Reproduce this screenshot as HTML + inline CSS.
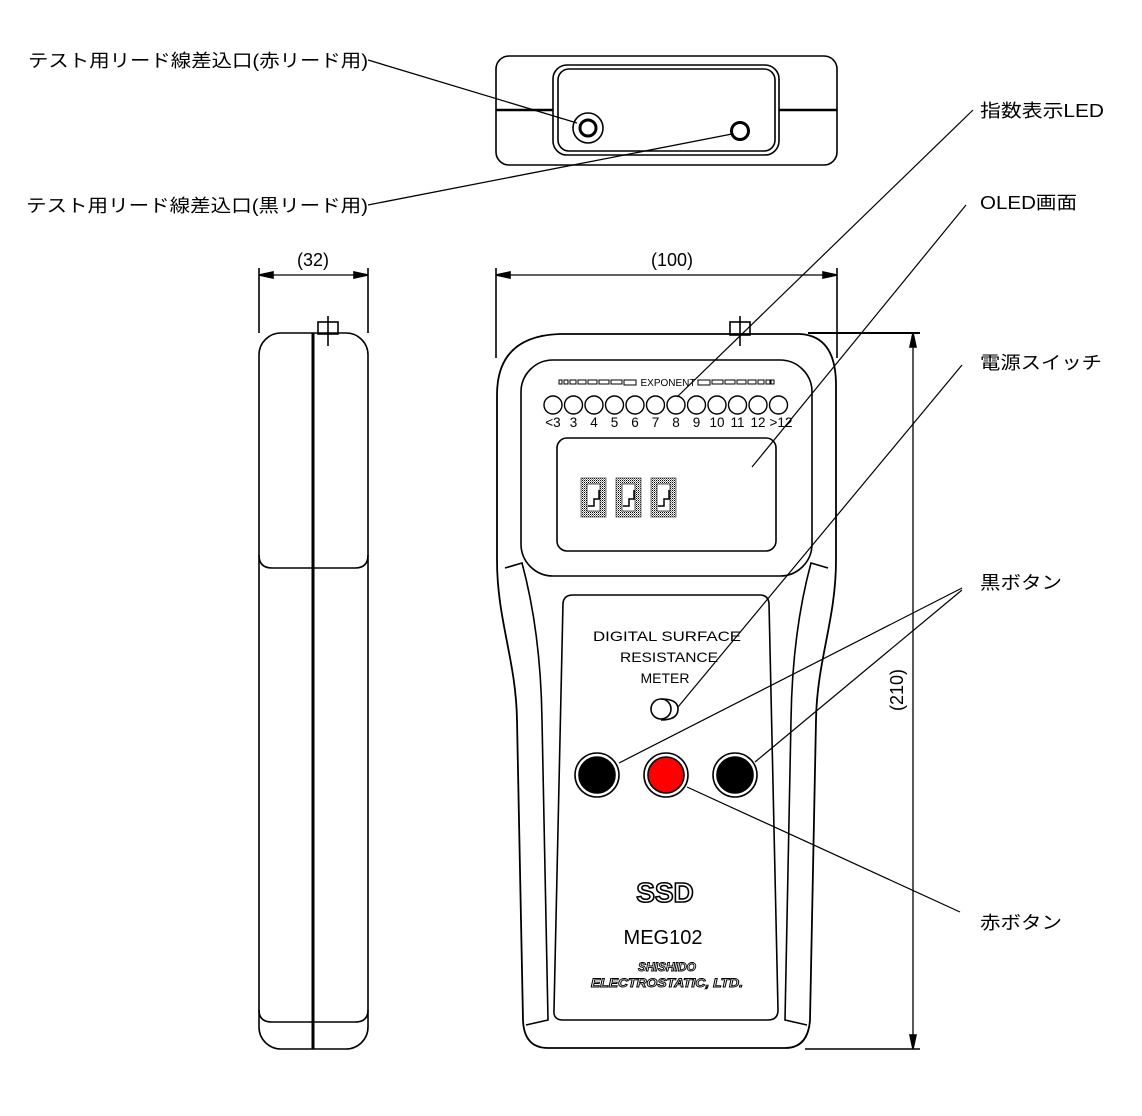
<!DOCTYPE html>
<html><head><meta charset="utf-8"><style>
html,body{margin:0;padding:0;background:#fff;}
svg{display:block;}
text{font-family:"Liberation Sans","Noto Sans CJK JP",sans-serif;}
</style></head><body>
<svg width="1142" height="1116" viewBox="0 0 1142 1116" xmlns="http://www.w3.org/2000/svg">
<defs>
<marker id="ar" viewBox="0 0 10 10" refX="10" refY="5" markerWidth="14" markerHeight="6" orient="auto" markerUnits="userSpaceOnUse"><path d="M0,0 L10,5 L0,10 Z" fill="#000"/></marker>
<pattern id="hp" width="2" height="2" patternUnits="userSpaceOnUse"><rect width="1" height="1" fill="#000"/><rect x="1" y="1" width="1" height="1" fill="#888"/></pattern>
</defs>
<g fill="none" stroke="#000" stroke-width="1.6">
<rect x="496" y="56" width="341" height="109" rx="13"/>
<rect x="553" y="65" width="226" height="90" rx="14"/>
<rect x="558" y="69" width="217" height="82" rx="11"/>
<line x1="496" y1="110" x2="553" y2="110" stroke-width="2.5"/>
<line x1="779" y1="110" x2="837" y2="110" stroke-width="2.5"/>
<circle cx="588" cy="128" r="15"/>
<circle cx="588" cy="128" r="8" stroke-width="3"/>
<circle cx="740" cy="131" r="8.5" stroke-width="3"/>
<line x1="368" y1="60" x2="577" y2="123" stroke-width="1.3"/>
<line x1="368" y1="205" x2="732" y2="134" stroke-width="1.3"/>

<rect x="259" y="333" width="109" height="716" rx="22"/>
<path d="M259,555 Q259,568 272,568 L355,568 Q368,568 368,555"/>
<path d="M259,1010 Q259,1022 272,1022 L355,1022 Q368,1022 368,1010"/>
<line x1="313" y1="333" x2="313" y2="1049" stroke-width="3"/>
<rect x="318" y="322" width="20" height="12"/>
<line x1="328" y1="316" x2="328" y2="346"/>
<line x1="259" y1="268" x2="259" y2="333"/>
<line x1="368" y1="268" x2="368" y2="333"/>
<line x1="262" y1="275" x2="365" y2="275" stroke-width="1.3"/>
<path d="M259,275 L273,272 L273,278 Z M368,275 L354,272 L354,278 Z" fill="#000"/>

<line x1="496" y1="268" x2="496" y2="358"/>
<line x1="837" y1="268" x2="837" y2="358"/>
<line x1="499" y1="275" x2="834" y2="275" stroke-width="1.3"/>
<path d="M496,275 L510,272 L510,278 Z M837,275 L823,272 L823,278 Z" fill="#000"/>
<line x1="808" y1="333" x2="920" y2="333" stroke-width="2"/>
<line x1="805" y1="1049" x2="920" y2="1049" stroke-width="1.6"/>
<line x1="913" y1="336" x2="913" y2="1046" stroke-width="1.3"/>
<path d="M913,333 L910,347 L916,347 Z M913,1049 L910,1035 L916,1035 Z" fill="#000"/>

<path d="M560,334 L800,334 Q836,336 836,385 L836,560 C836,620 817,660 816,720 L810,1020 Q808,1048 785,1048 L548,1048 Q524,1048 523,1020 L517,720 C516,660 497,620 497,560 L497,395 Q497,336 560,334 Z" stroke-width="1.8"/>
<rect x="730" y="322" width="20" height="13"/>
<line x1="740" y1="316" x2="740" y2="346"/>
<path d="M505,568 L522,563 C532,600 541,650 542,720 L548,1020 L526,1025"/>
<path d="M828,568 L811,563 C801,600 792,650 791,720 L785,1020 L807,1025"/>
<rect x="521" y="360" width="291" height="216" rx="32"/>
<rect x="557" y="438" width="219" height="113" rx="10"/>
<g stroke-width="1.4">
<circle cx="553" cy="405" r="9"/><circle cx="573.5" cy="405" r="9"/><circle cx="594" cy="405" r="9"/><circle cx="614.5" cy="405" r="9"/><circle cx="635" cy="405" r="9"/><circle cx="655.5" cy="405" r="9"/><circle cx="676" cy="405" r="9"/><circle cx="696.5" cy="405" r="9"/><circle cx="717" cy="405" r="9"/><circle cx="737.5" cy="405" r="9"/><circle cx="758" cy="405" r="9"/><circle cx="778.5" cy="405" r="9"/>
</g>
<g stroke-width="1">
<rect x="559" y="380" width="3" height="4"/><rect x="564" y="380" width="4" height="4"/><rect x="570" y="380" width="6" height="4"/><rect x="578" y="380" width="8" height="4"/><rect x="588" y="380" width="9" height="4"/><rect x="599" y="380" width="10" height="4"/><rect x="611" y="380" width="11" height="4"/><rect x="624" y="380" width="12" height="5"/>
<rect x="698" y="380" width="12" height="5"/><rect x="712" y="380" width="11" height="4"/><rect x="725" y="380" width="10" height="4"/><rect x="737" y="380" width="9" height="4"/><rect x="748" y="380" width="8" height="4"/><rect x="758" y="380" width="6" height="4"/><rect x="766" y="380" width="4" height="4"/><rect x="771" y="380" width="3" height="4"/>
</g>
<path d="M573,595 L760,595 Q768,595 769,603 L778,1010 Q778,1020 768,1020 L563,1020 Q553,1020 554,1010 L563,603 Q564,595 573,595 Z"/>
<ellipse cx="661" cy="709" rx="10" ry="10"/>
<path d="M661,699 Q678,699 678,709 Q678,720 661,720"/>
<circle cx="597" cy="775" r="22"/><circle cx="597" cy="775" r="18" fill="#000"/>
<circle cx="666" cy="775" r="22"/><circle cx="666" cy="775" r="18" fill="#f00" stroke="#000"/>
<circle cx="735" cy="775" r="22"/><circle cx="735" cy="775" r="18" fill="#000"/>
<g stroke-width="1.2">
<line x1="973" y1="110" x2="677" y2="397"/>
<line x1="966" y1="205" x2="752" y2="467"/>
<line x1="962" y1="365" x2="678" y2="707"/>
<line x1="962" y1="588" x2="619" y2="763"/>
<line x1="962" y1="590" x2="755" y2="762"/>
<line x1="960" y1="912" x2="687" y2="787"/>
</g>
</g>
<g fill="url(#hp)" stroke="#555" stroke-width="0.8">
<rect x="581" y="478" width="25" height="39"/><rect x="616" y="478" width="25" height="39"/><rect x="651" y="478" width="25" height="39"/>
</g>
<g fill="#fff" stroke="#333" stroke-width="0.8">
<rect x="587" y="484" width="13" height="27"/><rect x="622" y="484" width="13" height="27"/><rect x="657" y="484" width="13" height="27"/>
</g>
<g stroke="#000" stroke-width="1.5" fill="none">
<path d="M588,506 L594,506 L594,499 L599,499 L599,490"/><path d="M623,506 L629,506 L629,499 L634,499 L634,490"/><path d="M658,506 L664,506 L664,499 L669,499 L669,490"/>
</g>
<g font-size="13.5" text-anchor="middle" fill="#000">
<text x="553" y="427">&lt;3</text><text x="573.5" y="427">3</text><text x="594" y="427">4</text><text x="614.5" y="427">5</text><text x="635" y="427">6</text><text x="655.5" y="427">7</text><text x="676" y="427">8</text><text x="696.5" y="427">9</text><text x="717" y="427">10</text><text x="737.5" y="427">11</text><text x="758" y="427">12</text><text x="781" y="427">&gt;12</text>
</g>
<text x="668" y="386" font-size="10" text-anchor="middle" fill="#000">EXPONENT</text>
<text x="667" y="641" font-size="14" text-anchor="middle" textLength="148" lengthAdjust="spacingAndGlyphs" fill="#000">DIGITAL  SURFACE</text>
<text x="669" y="662" font-size="14" text-anchor="middle" textLength="98" lengthAdjust="spacingAndGlyphs" fill="#000">RESISTANCE</text>
<text x="665" y="683" font-size="14" text-anchor="middle" fill="#000">METER</text>
<text x="665" y="902" font-size="28" font-weight="bold" text-anchor="middle" style="fill:#fff;stroke:#000;stroke-width:1.6">SSD</text>
<text x="663" y="944" font-size="20" text-anchor="middle" fill="#000">MEG102</text>
<text x="667" y="971" font-size="12" font-weight="bold" font-style="italic" text-anchor="middle" style="fill:#fff;stroke:#000;stroke-width:0.9">SHISHIDO</text>
<text x="667" y="987" font-size="12" font-weight="bold" font-style="italic" text-anchor="middle" style="fill:#fff;stroke:#000;stroke-width:0.9" textLength="152" lengthAdjust="spacingAndGlyphs">ELECTROSTATIC, LTD.</text>

<g font-size="18" fill="#000">
<text x="28" y="67" textLength="340" lengthAdjust="spacingAndGlyphs">テスト用リード線差込口(赤リード用)</text>
<text x="26" y="212" textLength="342" lengthAdjust="spacingAndGlyphs">テスト用リード線差込口(黒リード用)</text>
<text x="980" y="117" textLength="124" lengthAdjust="spacingAndGlyphs">指数表示LED</text>
<text x="980" y="209" textLength="97" lengthAdjust="spacingAndGlyphs">OLED画面</text>
<text x="980" y="369" textLength="122" lengthAdjust="spacingAndGlyphs">電源スイッチ</text>
<text x="980" y="589" textLength="82" lengthAdjust="spacingAndGlyphs">黒ボタン</text>
<text x="980" y="929" textLength="82" lengthAdjust="spacingAndGlyphs">赤ボタン</text>
<text x="313" y="266" text-anchor="middle">(32)</text>
<text x="672" y="266" text-anchor="middle">(100)</text>
<text x="0" y="0" text-anchor="middle" transform="translate(903,690) rotate(-90)">(210)</text>
</g>
</svg>
</body></html>
